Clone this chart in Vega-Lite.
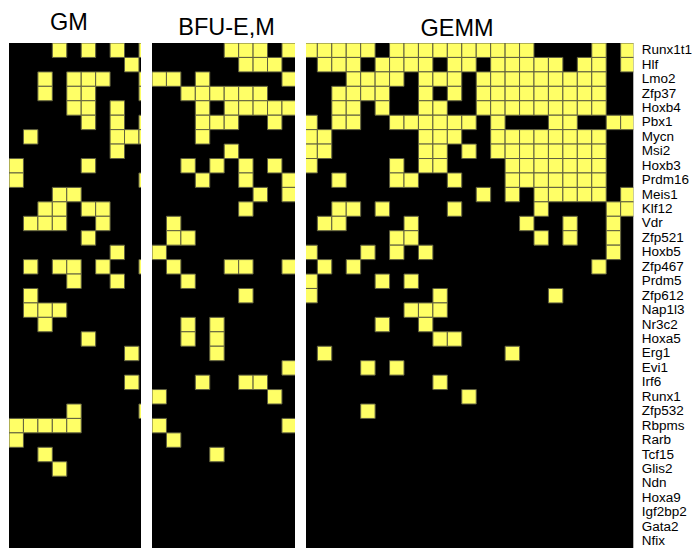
{
  "$schema": "https://vega.github.io/schema/vega-lite/v6.json",
  "padding": {"left": 9, "top": 11, "right": 0, "bottom": 0},
  "background": "white",
  "spacing": 11,
  "config": {
    "view": {"stroke": null, "fill": "black"},
    "font": "Liberation Sans",
    "title": {"font": "Liberation Sans", "fontSize": 23.5, "fontWeight": "normal", "color": "black", "anchor": "middle"}
  },
  "datasets": {
    "gm": [
      {"gene":"Runx1t1","col":3},{"gene":"Runx1t1","col":5},{"gene":"Runx1t1","col":7},{"gene":"Runx1t1","col":9},
      {"gene":"Hlf","col":8},
      {"gene":"Lmo2","col":2},{"gene":"Lmo2","col":4},{"gene":"Lmo2","col":5},{"gene":"Lmo2","col":6},{"gene":"Lmo2","col":9},
      {"gene":"Zfp37","col":2},{"gene":"Zfp37","col":4},{"gene":"Zfp37","col":5},{"gene":"Zfp37","col":9},
      {"gene":"Hoxb4","col":4},{"gene":"Hoxb4","col":5},{"gene":"Hoxb4","col":7},
      {"gene":"Pbx1","col":5},{"gene":"Pbx1","col":7},{"gene":"Pbx1","col":9},
      {"gene":"Mycn","col":1},{"gene":"Mycn","col":7},{"gene":"Mycn","col":8},{"gene":"Mycn","col":9},
      {"gene":"Msi2","col":7},
      {"gene":"Hoxb3","col":0},{"gene":"Hoxb3","col":5},
      {"gene":"Prdm16","col":0},{"gene":"Prdm16","col":9},
      {"gene":"Meis1","col":3},{"gene":"Meis1","col":4},
      {"gene":"Klf12","col":2},{"gene":"Klf12","col":3},{"gene":"Klf12","col":5},{"gene":"Klf12","col":6},
      {"gene":"Vdr","col":1},{"gene":"Vdr","col":2},{"gene":"Vdr","col":3},{"gene":"Vdr","col":6},
      {"gene":"Zfp521","col":5},
      {"gene":"Hoxb5","col":7},
      {"gene":"Zfp467","col":1},{"gene":"Zfp467","col":3},{"gene":"Zfp467","col":4},{"gene":"Zfp467","col":6},{"gene":"Zfp467","col":9},
      {"gene":"Prdm5","col":4},{"gene":"Prdm5","col":7},
      {"gene":"Zfp612","col":1},
      {"gene":"Nap1l3","col":1},{"gene":"Nap1l3","col":2},{"gene":"Nap1l3","col":3},
      {"gene":"Nr3c2","col":2},
      {"gene":"Hoxa5","col":5},
      {"gene":"Erg1","col":8},
      {"gene":"Irf6","col":8},
      {"gene":"Zfp532","col":4},{"gene":"Zfp532","col":9},
      {"gene":"Rbpms","col":0},{"gene":"Rbpms","col":1},{"gene":"Rbpms","col":2},{"gene":"Rbpms","col":3},{"gene":"Rbpms","col":4},
      {"gene":"Rarb","col":0},
      {"gene":"Tcf15","col":2},
      {"gene":"Glis2","col":3}
    ],
    "bfu": [
      {"gene":"Runx1t1","col":5},{"gene":"Runx1t1","col":6},{"gene":"Runx1t1","col":7},{"gene":"Runx1t1","col":9},
      {"gene":"Hlf","col":6},{"gene":"Hlf","col":7},{"gene":"Hlf","col":8},
      {"gene":"Lmo2","col":0},{"gene":"Lmo2","col":1},{"gene":"Lmo2","col":3},{"gene":"Lmo2","col":9},
      {"gene":"Zfp37","col":2},{"gene":"Zfp37","col":3},{"gene":"Zfp37","col":4},{"gene":"Zfp37","col":5},{"gene":"Zfp37","col":6},{"gene":"Zfp37","col":7},
      {"gene":"Hoxb4","col":3},{"gene":"Hoxb4","col":5},{"gene":"Hoxb4","col":6},{"gene":"Hoxb4","col":7},{"gene":"Hoxb4","col":8},{"gene":"Hoxb4","col":9},
      {"gene":"Pbx1","col":3},{"gene":"Pbx1","col":4},{"gene":"Pbx1","col":5},{"gene":"Pbx1","col":8},
      {"gene":"Mycn","col":3},
      {"gene":"Msi2","col":5},
      {"gene":"Hoxb3","col":2},{"gene":"Hoxb3","col":4},{"gene":"Hoxb3","col":6},{"gene":"Hoxb3","col":8},
      {"gene":"Prdm16","col":3},{"gene":"Prdm16","col":6},{"gene":"Prdm16","col":9},
      {"gene":"Meis1","col":7},{"gene":"Meis1","col":9},
      {"gene":"Klf12","col":6},
      {"gene":"Vdr","col":1},
      {"gene":"Zfp521","col":1},{"gene":"Zfp521","col":2},
      {"gene":"Hoxb5","col":0},
      {"gene":"Zfp467","col":1},{"gene":"Zfp467","col":5},{"gene":"Zfp467","col":6},{"gene":"Zfp467","col":9},
      {"gene":"Prdm5","col":2},
      {"gene":"Zfp612","col":6},
      {"gene":"Nr3c2","col":2},{"gene":"Nr3c2","col":4},
      {"gene":"Hoxa5","col":2},{"gene":"Hoxa5","col":4},
      {"gene":"Erg1","col":4},
      {"gene":"Evi1","col":9},
      {"gene":"Irf6","col":3},{"gene":"Irf6","col":6},{"gene":"Irf6","col":7},
      {"gene":"Runx1","col":0},{"gene":"Runx1","col":8},
      {"gene":"Rbpms","col":0},{"gene":"Rbpms","col":9},
      {"gene":"Rarb","col":1},
      {"gene":"Tcf15","col":4}
    ],
    "gemm": [
      {"gene":"Runx1t1","col":0},{"gene":"Runx1t1","col":1},{"gene":"Runx1t1","col":2},{"gene":"Runx1t1","col":3},{"gene":"Runx1t1","col":4},{"gene":"Runx1t1","col":6},{"gene":"Runx1t1","col":7},{"gene":"Runx1t1","col":8},{"gene":"Runx1t1","col":9},{"gene":"Runx1t1","col":10},{"gene":"Runx1t1","col":11},{"gene":"Runx1t1","col":12},{"gene":"Runx1t1","col":13},{"gene":"Runx1t1","col":14},{"gene":"Runx1t1","col":15},{"gene":"Runx1t1","col":20},{"gene":"Runx1t1","col":22},
      {"gene":"Hlf","col":1},{"gene":"Hlf","col":2},{"gene":"Hlf","col":3},{"gene":"Hlf","col":5},{"gene":"Hlf","col":6},{"gene":"Hlf","col":7},{"gene":"Hlf","col":8},{"gene":"Hlf","col":10},{"gene":"Hlf","col":11},{"gene":"Hlf","col":13},{"gene":"Hlf","col":14},{"gene":"Hlf","col":15},{"gene":"Hlf","col":16},{"gene":"Hlf","col":17},{"gene":"Hlf","col":19},{"gene":"Hlf","col":20},{"gene":"Hlf","col":22},
      {"gene":"Lmo2","col":3},{"gene":"Lmo2","col":4},{"gene":"Lmo2","col":5},{"gene":"Lmo2","col":6},{"gene":"Lmo2","col":8},{"gene":"Lmo2","col":9},{"gene":"Lmo2","col":10},{"gene":"Lmo2","col":12},{"gene":"Lmo2","col":13},{"gene":"Lmo2","col":14},{"gene":"Lmo2","col":15},{"gene":"Lmo2","col":16},{"gene":"Lmo2","col":17},{"gene":"Lmo2","col":18},{"gene":"Lmo2","col":19},{"gene":"Lmo2","col":20},
      {"gene":"Zfp37","col":2},{"gene":"Zfp37","col":3},{"gene":"Zfp37","col":4},{"gene":"Zfp37","col":5},{"gene":"Zfp37","col":8},{"gene":"Zfp37","col":10},{"gene":"Zfp37","col":12},{"gene":"Zfp37","col":13},{"gene":"Zfp37","col":14},{"gene":"Zfp37","col":15},{"gene":"Zfp37","col":16},{"gene":"Zfp37","col":17},{"gene":"Zfp37","col":18},{"gene":"Zfp37","col":19},{"gene":"Zfp37","col":20},
      {"gene":"Hoxb4","col":2},{"gene":"Hoxb4","col":3},{"gene":"Hoxb4","col":5},{"gene":"Hoxb4","col":8},{"gene":"Hoxb4","col":9},{"gene":"Hoxb4","col":12},{"gene":"Hoxb4","col":13},{"gene":"Hoxb4","col":14},{"gene":"Hoxb4","col":15},{"gene":"Hoxb4","col":16},{"gene":"Hoxb4","col":17},{"gene":"Hoxb4","col":18},{"gene":"Hoxb4","col":19},{"gene":"Hoxb4","col":20},
      {"gene":"Pbx1","col":0},{"gene":"Pbx1","col":2},{"gene":"Pbx1","col":3},{"gene":"Pbx1","col":6},{"gene":"Pbx1","col":7},{"gene":"Pbx1","col":8},{"gene":"Pbx1","col":9},{"gene":"Pbx1","col":10},{"gene":"Pbx1","col":11},{"gene":"Pbx1","col":13},{"gene":"Pbx1","col":17},{"gene":"Pbx1","col":18},{"gene":"Pbx1","col":21},{"gene":"Pbx1","col":22},
      {"gene":"Mycn","col":0},{"gene":"Mycn","col":1},{"gene":"Mycn","col":8},{"gene":"Mycn","col":9},{"gene":"Mycn","col":10},{"gene":"Mycn","col":13},{"gene":"Mycn","col":14},{"gene":"Mycn","col":15},{"gene":"Mycn","col":16},{"gene":"Mycn","col":17},{"gene":"Mycn","col":18},{"gene":"Mycn","col":19},{"gene":"Mycn","col":20},
      {"gene":"Msi2","col":0},{"gene":"Msi2","col":1},{"gene":"Msi2","col":8},{"gene":"Msi2","col":9},{"gene":"Msi2","col":11},{"gene":"Msi2","col":13},{"gene":"Msi2","col":14},{"gene":"Msi2","col":15},{"gene":"Msi2","col":16},{"gene":"Msi2","col":17},{"gene":"Msi2","col":18},{"gene":"Msi2","col":19},{"gene":"Msi2","col":20},
      {"gene":"Hoxb3","col":0},{"gene":"Hoxb3","col":6},{"gene":"Hoxb3","col":8},{"gene":"Hoxb3","col":9},{"gene":"Hoxb3","col":14},{"gene":"Hoxb3","col":15},{"gene":"Hoxb3","col":16},{"gene":"Hoxb3","col":17},{"gene":"Hoxb3","col":18},{"gene":"Hoxb3","col":19},{"gene":"Hoxb3","col":20},
      {"gene":"Prdm16","col":2},{"gene":"Prdm16","col":6},{"gene":"Prdm16","col":7},{"gene":"Prdm16","col":10},{"gene":"Prdm16","col":14},{"gene":"Prdm16","col":15},{"gene":"Prdm16","col":16},{"gene":"Prdm16","col":17},{"gene":"Prdm16","col":18},{"gene":"Prdm16","col":19},{"gene":"Prdm16","col":20},
      {"gene":"Meis1","col":12},{"gene":"Meis1","col":14},{"gene":"Meis1","col":16},{"gene":"Meis1","col":17},{"gene":"Meis1","col":18},{"gene":"Meis1","col":19},{"gene":"Meis1","col":20},{"gene":"Meis1","col":22},
      {"gene":"Klf12","col":2},{"gene":"Klf12","col":3},{"gene":"Klf12","col":5},{"gene":"Klf12","col":10},{"gene":"Klf12","col":16},{"gene":"Klf12","col":21},{"gene":"Klf12","col":22},
      {"gene":"Vdr","col":1},{"gene":"Vdr","col":2},{"gene":"Vdr","col":7},{"gene":"Vdr","col":15},{"gene":"Vdr","col":18},{"gene":"Vdr","col":21},
      {"gene":"Zfp521","col":6},{"gene":"Zfp521","col":7},{"gene":"Zfp521","col":16},{"gene":"Zfp521","col":18},{"gene":"Zfp521","col":21},
      {"gene":"Hoxb5","col":0},{"gene":"Hoxb5","col":4},{"gene":"Hoxb5","col":6},{"gene":"Hoxb5","col":8},{"gene":"Hoxb5","col":21},
      {"gene":"Zfp467","col":1},{"gene":"Zfp467","col":3},{"gene":"Zfp467","col":20},
      {"gene":"Prdm5","col":0},{"gene":"Prdm5","col":5},{"gene":"Prdm5","col":7},
      {"gene":"Zfp612","col":0},{"gene":"Zfp612","col":9},{"gene":"Zfp612","col":17},
      {"gene":"Nap1l3","col":7},{"gene":"Nap1l3","col":8},{"gene":"Nap1l3","col":9},
      {"gene":"Nr3c2","col":5},{"gene":"Nr3c2","col":8},
      {"gene":"Hoxa5","col":9},{"gene":"Hoxa5","col":10},
      {"gene":"Erg1","col":1},{"gene":"Erg1","col":14},
      {"gene":"Evi1","col":4},{"gene":"Evi1","col":6},
      {"gene":"Irf6","col":9},
      {"gene":"Runx1","col":11},
      {"gene":"Zfp532","col":4}
    ]
  },
  "hconcat": [
    {
      "width": 132,
      "height": 505.4,
      "title": {"text": "GM", "offset": 8.4, "dx": -6},
      "data": {"name": "gm"},
      "mark": {"type": "rect", "fill": "#ffff66", "stroke": "#5f5f3f", "strokeWidth": 1, "clip": true},
      "encoding": {
        "x": {"field": "col", "type": "ordinal", "axis": null,
              "scale": {"domain": [0,1,2,3,4,5,6,7,8,9], "range": [0, 144.4], "paddingInner": 0, "paddingOuter": 0}},
        "y": {"field": "gene", "type": "nominal", "axis": null,
              "scale": {"domain": ["Runx1t1","Hlf","Lmo2","Zfp37","Hoxb4","Pbx1","Mycn","Msi2","Hoxb3","Prdm16","Meis1","Klf12","Vdr","Zfp521","Hoxb5","Zfp467","Prdm5","Zfp612","Nap1l3","Nr3c2","Hoxa5","Erg1","Evi1","Irf6","Runx1","Zfp532","Rbpms","Rarb","Tcf15","Glis2","Ndn","Hoxa9","Igf2bp2","Gata2","Nfix"], "paddingInner": 0, "paddingOuter": 0}}
      }
    },
    {
      "width": 143,
      "height": 505.4,
      "title": {"text": "BFU-E,M", "offset": 3.4, "dx": 3},
      "data": {"name": "bfu"},
      "mark": {"type": "rect", "fill": "#ffff66", "stroke": "#5f5f3f", "strokeWidth": 1, "clip": true},
      "encoding": {
        "x": {"field": "col", "type": "ordinal", "axis": null,
              "scale": {"domain": [0,1,2,3,4,5,6,7,8,9], "range": [0, 144.4], "paddingInner": 0, "paddingOuter": 0}},
        "y": {"field": "gene", "type": "nominal", "axis": null,
              "scale": {"domain": ["Runx1t1","Hlf","Lmo2","Zfp37","Hoxb4","Pbx1","Mycn","Msi2","Hoxb3","Prdm16","Meis1","Klf12","Vdr","Zfp521","Hoxb5","Zfp467","Prdm5","Zfp612","Nap1l3","Nr3c2","Hoxa5","Erg1","Evi1","Irf6","Runx1","Zfp532","Rbpms","Rarb","Tcf15","Glis2","Ndn","Hoxa9","Igf2bp2","Gata2","Nfix"], "paddingInner": 0, "paddingOuter": 0}}
      }
    },
    {
      "width": 327.3,
      "height": 505.4,
      "title": {"text": "GEMM", "offset": 2.4, "dx": -12.6},
      "data": {"name": "gemm"},
      "mark": {"type": "rect", "fill": "#ffff66", "stroke": "#5f5f3f", "strokeWidth": 1, "clip": true},
      "encoding": {
        "x": {"field": "col", "type": "ordinal", "axis": null,
              "scale": {"domain": [0,1,2,3,4,5,6,7,8,9,10,11,12,13,14,15,16,17,18,19,20,21,22], "range": [-3.1, 329.1], "paddingInner": 0, "paddingOuter": 0}},
        "y": {"field": "gene", "type": "nominal",
              "axis": {"orient": "right", "title": null, "ticks": false, "domain": false, "grid": false, "labelFont": "Liberation Sans", "labelFontSize": 13.5, "labelColor": "black", "labelPadding": 8},
              "scale": {"domain": ["Runx1t1","Hlf","Lmo2","Zfp37","Hoxb4","Pbx1","Mycn","Msi2","Hoxb3","Prdm16","Meis1","Klf12","Vdr","Zfp521","Hoxb5","Zfp467","Prdm5","Zfp612","Nap1l3","Nr3c2","Hoxa5","Erg1","Evi1","Irf6","Runx1","Zfp532","Rbpms","Rarb","Tcf15","Glis2","Ndn","Hoxa9","Igf2bp2","Gata2","Nfix"], "paddingInner": 0, "paddingOuter": 0}}
      }
    }
  ]
}
